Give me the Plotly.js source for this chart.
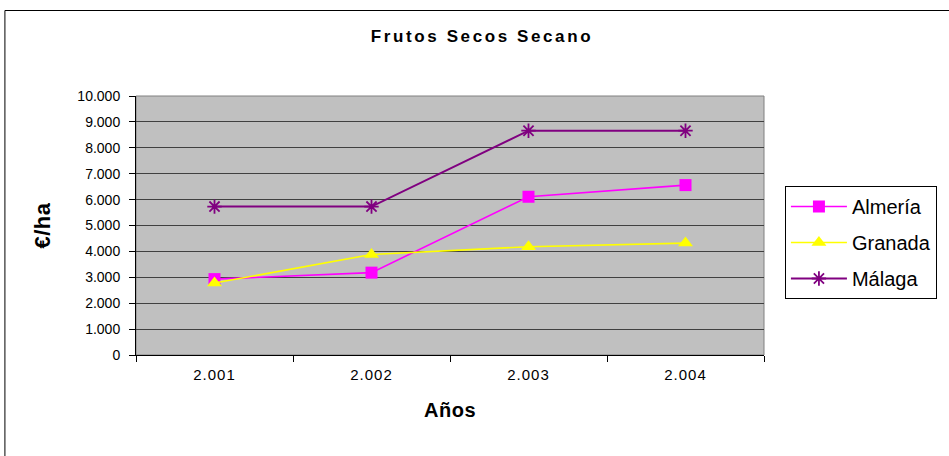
<!DOCTYPE html>
<html>
<head>
<meta charset="utf-8">
<script src="https://cdn.plot.ly/plotly-3.0.1.min.js"></script>
<style>
  html, body { margin: 0; padding: 0; background: #ffffff; }
  #chart { width: 949px; height: 456px; }
  .gtitle { letter-spacing: 2.6px; }
  .xtick text { letter-spacing: 1px; }
  .xtitle, .ytitle { letter-spacing: 0.5px; }
</style>
</head>
<body>
<div id="chart"></div>
<script>
const years = ["2.001", "2.002", "2.003", "2.004"];
const almeria = [2930, 3180, 6110, 6560];
const granada = [2780, 3880, 4180, 4320];
const malaga = [5730, 5730, 8660, 8660];
const yTickVals = [0, 1000, 2000, 3000, 4000, 5000, 6000, 7000, 8000, 9000, 10000];

const ML = 136, MR = 183, MT = 96, MB = 101, W = 949, H = 456;
const PW = W - ML - MR, PH = H - MT - MB;
const px2x = p => (p - ML) / PW;
const px2y = p => (H - MB - p) / PH;

const traces = [
  { name: "Almería", x: years, y: almeria, type: "scatter", mode: "lines+markers",
    legendgroup: "a",
    line: { color: "#FF00FF", width: 1.6 },
    marker: { symbol: "square", size: 12, color: "#FF00FF" } },
  { name: "Granada", x: years, y: granada, type: "scatter", mode: "lines+markers",
    legendgroup: "g",
    line: { color: "#FFFF00", width: 1.6 },
    marker: { symbol: "triangle-up", size: 13, color: "#FFFF00" } },
  { name: "Málaga", x: years, y: malaga, type: "scatter", mode: "lines+markers",
    legendgroup: "m",
    line: { color: "#800080", width: 2 },
    marker: { symbol: "asterisk-open", size: 12, color: "#800080", line: { color: "#800080", width: 1.8 } } }
];

const layout = {
  width: W, height: H,
  margin: { l: ML, r: MR, t: MT, b: MB },
  paper_bgcolor: "#ffffff",
  plot_bgcolor: "#C0C0C0",
  separators: ",.",
  font: { family: "Liberation Sans, Arial, sans-serif", color: "#000000" },
  title: { text: "<b>Frutos Secos Secano</b>", font: { size: 17, color: "#000000" },
           x: 482 / W, xanchor: "center", y: 1 - 36 / H, yanchor: "middle" },
  xaxis: {
    type: "category", range: [-0.5, 3.5], tickson: "boundaries",
    ticks: "outside", ticklen: 6, tickcolor: "#000000", tickwidth: 1,
    ticklabelstandoff: 6,
    showline: true, linecolor: "#000000", linewidth: 1,
    showgrid: false, zeroline: false, fixedrange: true,
    tickfont: { size: 15 },
    title: { text: "<b>Años</b>", font: { size: 20 }, standoff: 20 }
  },
  yaxis: {
    range: [0, 10000], tickvals: yTickVals, tickformat: ",d",
    ticks: "outside", ticklen: 6, tickcolor: "#000000", tickwidth: 1,
    ticklabelstandoff: 6,
    showline: true, linecolor: "#000000", linewidth: 1,
    showgrid: true, gridcolor: "#404040", gridwidth: 1,
    zeroline: false, fixedrange: true,
    tickfont: { size: 14 },
    title: { text: "<b>€/ha</b>", font: { size: 22 }, standoff: 20 }
  },
  showlegend: true,
  legend: {
    x: px2x(787), xanchor: "left", y: px2y(186), yanchor: "top",
    bgcolor: "#ffffff", bordercolor: "#000000", borderwidth: 1,
    font: { size: 20 }, traceorder: "grouped", tracegroupgap: 7,
    itemwidth: 56
  },
  shapes: [
    { type: "rect", xref: "paper", yref: "paper", x0: 0, x1: 1, y0: 0, y1: 1,
      line: { color: "#808080", width: 1 }, layer: "below" },
    { type: "rect", xref: "paper", yref: "paper",
      x0: px2x(4.5), x1: px2x(960), y0: px2y(470), y1: px2y(10.5),
      line: { color: "#000000", width: 1 }, layer: "below" }
  ]
};

Plotly.newPlot("chart", traces, layout, { displayModeBar: false, staticPlot: true });
</script>
</body>
</html>
